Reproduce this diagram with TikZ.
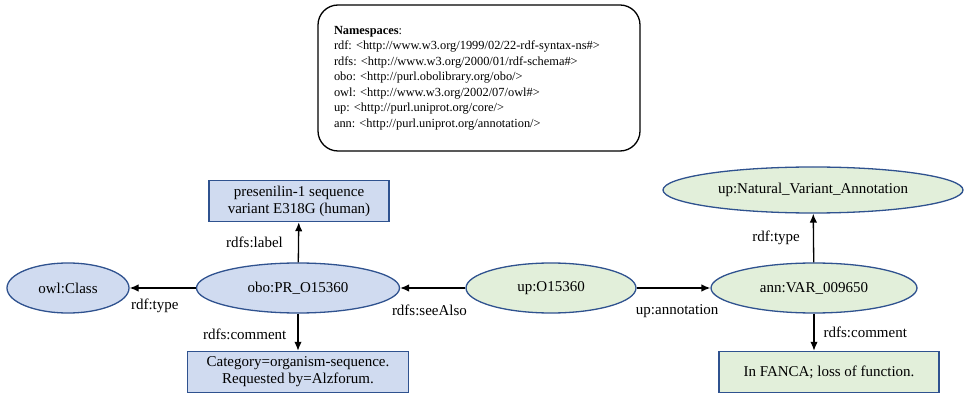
\documentclass[tikz,border=0pt]{standalone}
\usepackage{xcolor}
\usepackage{fontspec}
\setmainfont{Liberation Serif}
\usepackage{tikz}
\usetikzlibrary{shapes.geometric,arrows.meta}
\frenchspacing
\definecolor{Res-Blue}{RGB}{208,219,240}
\definecolor{Res-Green}{RGB}{226,239,218}
\definecolor{Res-Edge}{RGB}{ 47, 82,143}
\tikzstyle{e}=[line width=1.3pt,draw=black,arrows={-Latex[length=9pt,width=7.5pt]}]
\tikzstyle{r}=[ellipse,draw=Res-Edge,line width=1.3pt,inner sep=0pt,minimum height=50pt,font=\fontsize{15}{17}\selectfont]
\tikzstyle{lit}=[rectangle,draw=Res-Edge,line width=1.5pt,inner sep=0pt,minimum height=41pt,align=center,font=\fontsize{15}{17}\selectfont]
\tikzstyle{obo}=[fill=Res-Blue]
\tikzstyle{up}=[fill=Res-Green]
\tikzstyle{lbl}=[inner sep=1pt,font=\fontsize{15}{17}\selectfont]
\tikzstyle{ns}=[rectangle,rounded corners=20pt,draw=black,line width=1.3pt,text width=290pt,inner xsep=16pt,minimum height=146pt,align=left,font=\fontsize{12.4}{15.5}\selectfont]

\begin{document}
\begin{tikzpicture}[x=1pt,y=-1pt]
\useasboundingbox (0,0) rectangle (966,395);

% Namespaces
\node[ns] (namespaces) at (479,78) {\textbf{Namespaces}:\\
rdf: <http://www.w3.org/1999/02/22-rdf-syntax-ns\#>\\
rdfs: <http://www.w3.org/2000/01/rdf-schema\#>\\
obo: <http://purl.obolibrary.org/obo/>\\
owl: <http://www.w3.org/2002/07/owl\#>\\
up: <http://purl.uniprot.org/core/>\\
ann: <http://purl.uniprot.org/annotation/>};

% Nodes
\node[r,obo,minimum width=122pt]  (owl class)  at (68,288)  {owl:Class};
\node[r,obo,minimum width=203pt]  (pr)         at (298,288) {obo:PR\_O15360};
\node[r,up,minimum width=170pt]   (protein)    at (551,288) {up:O15360};
\node[r,up,minimum width=206pt]   (variant)    at (814,288) {ann:VAR\_009650};
\node[r,up,minimum width=300pt,minimum height=46pt] (nva) at (813,190) {up:Natural\_Variant\_Annotation};
\node[lit,obo,minimum width=180pt] (pr label)   at (299,201) {presenilin-1 sequence\\variant E318G (human)};
\node[lit,obo,minimum width=221pt] (pr comment) at (298,372) {Category=organism-sequence.\\Requested by=Alzforum.};
\node[lit,up,minimum width=220pt]  (var comment) at (829,372) {In FANCA; loss of function.};

% Edges
\draw[e] (pr)      -- node[lbl,pos=0.62,below=9pt] {rdf:type}      (owl class);
\draw[e] (pr)      -- node[lbl,left=14pt]          {rdfs:label}    (pr label);
\draw[e] (pr)      -- node[lbl,left=10pt,yshift=-2pt] {rdfs:comment}  (pr comment);
\draw[e] (protein) -- node[lbl,pos=0.55,below=15pt] {rdfs:seeAlso} (pr);
\draw[e] (protein) -- node[lbl,pos=0.55,below=15pt] {up:annotation} (variant);
\draw[e] (variant) -- node[lbl,left=12pt]          {rdf:type}      (nva);
\draw[e] (variant.south) -- node[lbl,right=8pt]    {rdfs:comment}  (variant.south |- var comment.north);

\end{tikzpicture}
\end{document}
